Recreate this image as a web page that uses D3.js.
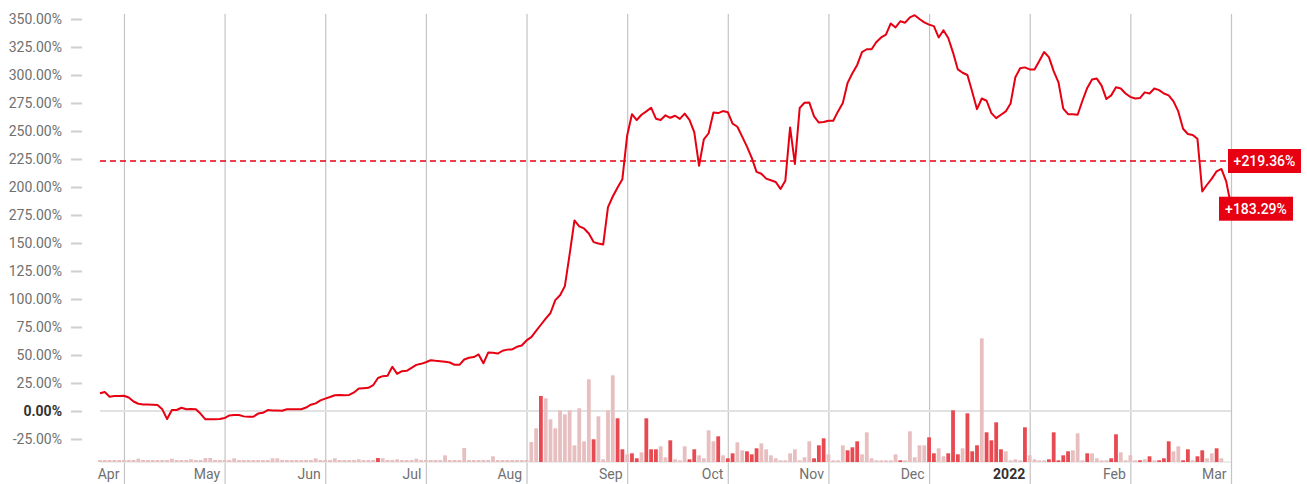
<!DOCTYPE html>
<html>
<head>
<meta charset="utf-8">
<script src="https://cdnjs.cloudflare.com/ajax/libs/d3/7.8.5/d3.min.js"></script>
<style>
  html, body { margin: 0; padding: 0; background: #fff; }
  svg { display: block; font-family: Roboto, "Noto Sans", sans-serif; }
</style>
</head>
<body>
<svg id="chart" width="1307" height="484"></svg>
<script>
// cumulative return in %, one point per trading day
var returns = [
  15.8, 17.0, 12.8, 13.3, 13.5, 13.6, 12.0, 8.5, 6.5, 5.8,
  5.7, 5.6, 5.4, 1.5, -7.2, 0.9, 0.9, 2.9, 1.6, 1.7,
  1.6, -2.5, -7.4, -7.4, -7.4, -7.2, -6.3, -4.0, -3.5, -3.6,
  -4.8, -5.2, -5.1, -2.3, -1.6, 0.8, 0.5, 0.4, 0.3, 1.5,
  1.5, 1.5, 1.6, 3.1, 5.6, 6.8, 9.5, 11.0, 12.5, 14.1,
  14.2, 14.0, 14.3, 16.6, 20.1, 20.4, 20.7, 23.0, 29.5, 31.1,
  31.4, 39.5, 33.2, 35.6, 35.9, 38.5, 41.2, 42.1, 43.5, 45.3,
  44.8, 44.4, 43.9, 43.3, 41.2, 41.2, 46.0, 47.5, 48.2, 50.5,
  42.6, 52.2, 52.0, 51.3, 53.8, 54.8, 55.0, 57.3, 58.5, 63.0,
  66.0, 71.5, 77.0, 82.5, 87.5, 99.0, 103.3, 111.5, 140.0, 170.1,
  164.8, 163.0, 158.5, 150.8, 149.6, 148.6, 182.0, 191.5, 199.5, 207.0,
  246.0, 265.0, 259.8, 264.5, 267.5, 270.8, 261.0, 259.9, 264.0, 261.8,
  263.6, 260.8, 265.5, 260.0, 249.0, 219.0, 242.5, 248.0, 266.5, 266.0,
  267.8, 266.8, 256.5, 253.8, 245.0, 236.0, 226.0, 213.5, 211.8, 207.5,
  206.0, 204.5, 198.3, 205.5, 253.2, 220.6, 270.5, 275.2, 275.5, 263.0,
  257.5, 258.0, 259.2, 259.2, 267.5, 275.0, 293.0, 301.5, 309.0, 320.5,
  323.0, 323.0, 329.5, 333.5, 336.0, 346.0, 342.5, 348.0, 346.7, 351.5,
  353.4, 350.0, 347.0, 345.0, 343.6, 333.5, 340.0, 333.0, 320.0, 305.0,
  302.0, 300.0, 285.0, 269.5, 279.0, 277.0, 266.0, 261.5, 264.5, 267.5,
  274.5, 298.0, 306.0, 306.8, 305.0, 305.0, 312.5, 320.5, 316.0, 303.5,
  293.5, 270.0, 265.0, 265.0, 264.5, 277.0, 288.5, 296.0, 296.8, 290.5,
  278.5, 281.8, 289.0, 288.0, 283.5, 280.5, 279.0, 279.4, 284.5, 283.5,
  288.0, 286.5, 283.5, 281.8, 276.5, 267.5, 252.0, 247.3, 246.5, 243.0,
  196.0, 202.0, 207.5, 214.0, 216.1, 205.0, 183.29
]

// daily volume (relative units)
var volume = [
  2, 2, 2, 2, 2, 2, 2, 2, 3.3, 2,
  2, 2, 2, 2, 2, 3.3, 2, 2, 2, 2.7,
  2, 2, 4, 4, 2, 2, 2, 2, 3.7, 2,
  2, 2, 2, 2, 2, 2, 3.7, 3.7, 2, 2,
  2, 2, 2, 2, 2, 3.7, 2, 2, 2, 3.7,
  2, 2, 2, 2, 2.7, 2, 2, 2, 4, 3.7,
  2, 2, 2.7, 2, 2, 2, 3.3, 2, 2, 2,
  2, 2, 6.7, 2, 2, 2, 14, 2, 2, 2,
  2, 2, 5.7, 2, 2, 2, 2, 2, 2, 2,
  20, 33.7, 66, 63.7, 42.7, 33.7, 51.7, 47.7, 51.7, 16.7,
  53.7, 20.7, 82.7, 22.7, 45.7, 2.7, 51.7, 86.7, 43.7, 12.7,
  7.7, 8.7, 3.7, 9.7, 43.7, 12.7, 12.7, 15.7, 4.7, 21.7,
  2.7, 1.7, 15.7, 2.7, 12.7, 6.7, 3.7, 31.7, 20.7, 25.7,
  6.7, 3.7, 8.7, 19.7, 11.7, 10.7, 7.7, 13.7, 18.7, 12.7,
  6.7, 3.7, 1.7, 1.7, 8.7, 12.7, 1.7, 4.7, 20.7, 3.7,
  16.7, 23.7, 7.7, 1.7, 1.7, 16.7, 11.7, 14.7, 20.7, 7.7,
  29.7, 3.7, 1.7, 1.7, 1.7, 1.7, 7.7, 1.7, 1.7, 30.7,
  4.7, 16.7, 16.7, 24.7, 8.7, 13.7, 5.7, 8.7, 51.7, 7.7,
  13.7, 48.7, 10.7, 16.7, 123.7, 29.7, 21.7, 39.7, 12.7, 10.7,
  1.7, 2.7, 1.7, 34.7, 6.7, 2.7, 1.7, 1.7, 2.7, 29.7,
  1.7, 6.7, 10.7, 11.7, 28.7, 1.7, 8.7, 8.7, 3.7, 1.7,
  1.7, 3.7, 27.7, 9.7, 1.7, 6.7, 1.7, 1.7, 2.7, 5.7,
  1.7, 1.7, 3.7, 20.7, 10.7, 15.7, 1.7, 12.7, 1.7, 5.7,
  11.7, 3.7, 8.7, 13.7, 3.7
]

// days drawn with the strong red bar
var redDays = [58, 92, 103, 108, 109, 111, 112, 114, 115, 116, 119, 123, 124, 129,
  131, 132, 135, 136, 137, 149, 150, 151, 156, 157, 158, 167, 173, 174, 177, 178,
  179, 181, 182, 183, 185, 186, 187, 188, 193, 198, 199, 200, 201, 202, 206, 211,
  212, 217, 219, 221, 222, 223, 226, 227, 229, 230, 233]

var monthLabels = ["Apr", "May", "Jun", "Jul", "Aug", "Sep", "Oct", "Nov", "Dec", "2022", "Feb", "Mar"]
var monthIdx = [5, 26, 47, 68, 89, 110, 131, 152, 173, 194, 215, 236]

var yTicks = [-25, 0, 25, 50, 75, 100, 125, 150, 175, 200, 225, 250, 275, 300, 325, 350]
var yTickLabels = ["-25.00%", "0.00%", "25.00%", "50.00%", "75.00%", "100.00%", "125.00%",
  "150.00%", "275.00%", "200.00%", "225.00%", "250.00%", "275.00%", "300.00%", "325.00%", "350.00%"]

var refLevel = 223.2
var refLabel = "+219.36%"
var lastLabel = "+183.29%"

var red = "#e60012"
var svg = d3.select("#chart")
var left = 100, right = 1231

var x = d3.scaleLinear().domain([0, returns.length - 1]).range([left, right])
var y = d3.scaleLinear().domain([-25, 350]).range([439, 19])
var yv = d3.scaleLinear().domain([0, 124]).range([462, 338])

// vertical month grid
var grid = svg.append("g").attr("transform", "translate(0,484)")
  .call(d3.axisBottom(x).tickValues(monthIdx).tickSize(-470).tickFormat(""))
grid.select(".domain").remove()
grid.selectAll("line").attr("stroke", "#c4c4c4").attr("stroke-width", 1.2)

// zero line and volume baseline
svg.append("line").attr("x1", left).attr("x2", right)
  .attr("y1", y(0)).attr("y2", y(0))
  .attr("stroke", "#e2e2e2").attr("stroke-width", 2)
svg.append("line").attr("x1", left).attr("x2", right)
  .attr("y1", yv(0)).attr("y2", yv(0))
  .attr("stroke", "#e6e6e6").attr("stroke-width", 1.5)

// volume bars
svg.append("g").selectAll("rect")
  .data(volume)
  .enter().append("rect")
  .attr("x", function(d, i) { return x(i) - 1.9 })
  .attr("width", 3.8)
  .attr("y", function(d) { return yv(d) })
  .attr("height", function(d) { return yv(0) - yv(d) })
  .attr("fill", function(d, i) { return redDays.indexOf(i) >= 0 ? "#e84a52" : "#e8bfc0" })

// y axis
var yAxis = svg.append("g").attr("transform", "translate(82,0)")
  .call(d3.axisLeft(y).tickValues(yTicks).tickSize(11).tickPadding(9)
    .tickFormat(function(d, i) { return yTickLabels[i] }))
yAxis.select(".domain").remove()
yAxis.selectAll("line").attr("stroke", "#cfcfcf").attr("stroke-width", 2)
yAxis.selectAll("text")
  .attr("font-family", "Roboto, sans-serif")
  .attr("font-size", 14)
  .attr("fill", function(d) { return d === 0 ? "#333" : "#707070" })
  .attr("font-weight", function(d) { return d === 0 ? "bold" : "normal" })

// x axis labels, right aligned just left of each grid line
var xAxis = svg.append("g").attr("transform", "translate(0,466)")
  .call(d3.axisBottom(x).tickValues(monthIdx).tickSize(0).tickPadding(3)
    .tickFormat(function(d, i) { return monthLabels[i] }))
xAxis.select(".domain").remove()
xAxis.selectAll("text")
  .attr("text-anchor", "end")
  .attr("dx", -5)
  .attr("font-family", "Roboto, sans-serif")
  .attr("font-size", 14)
  .attr("fill", function(d, i) { return monthLabels[i] == "2022" ? "#333" : "#707070" })
  .attr("font-weight", function(d, i) { return monthLabels[i] == "2022" ? "bold" : "normal" })

// reference dashed line
svg.append("line").attr("x1", left).attr("x2", right)
  .attr("y1", y(refLevel)).attr("y2", y(refLevel))
  .attr("stroke", red).attr("stroke-width", 1.3).attr("stroke-dasharray", "6,4")

// return line
var line = d3.line()
  .x(function(d, i) { return x(i) })
  .y(function(d) { return y(d) })
svg.append("path").datum(returns)
  .attr("d", line)
  .attr("fill", "none")
  .attr("stroke", red)
  .attr("stroke-width", 2)
  .attr("stroke-linejoin", "round")

// value tags on the right
function tag(cx, cy, w, label) {
  svg.append("rect").attr("x", cx).attr("y", cy - 12).attr("width", w).attr("height", 24).attr("fill", red)
  svg.append("text").attr("x", cx + w / 2).attr("y", cy + 5)
    .attr("text-anchor", "middle")
    .attr("font-size", 14).attr("font-weight", 500)
    .attr("fill", "#fff")
    .text(label)
}
var last = returns.length - 1
tag(x(last) - 3, y(refLevel), 73, refLabel)
tag(x(last) - 12, y(returns[last]) + 3, 74, lastLabel)
</script>
</body>
</html>
